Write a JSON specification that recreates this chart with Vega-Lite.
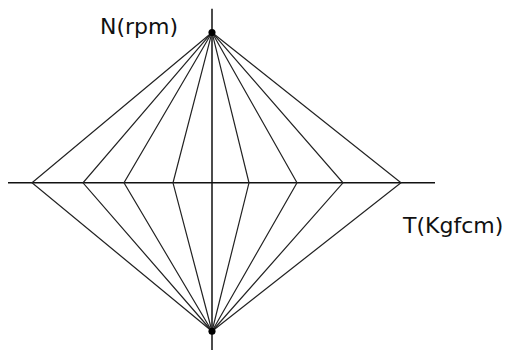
{
  "$schema": "https://vega.github.io/schema/vega-lite/v6.json",
  "width": 510,
  "height": 351,
  "padding": 0,
  "autosize": {"type": "fit", "contains": "padding"},
  "background": "white",
  "config": {"view": {"stroke": null}},
  "datasets": {
    "curves": [
      {"curve": 1, "step": 0, "T": 0, "N": 153}, {"curve": 1, "step": 1, "T": -180, "N": 0}, {"curve": 1, "step": 2, "T": 0, "N": -151},
      {"curve": 2, "step": 0, "T": 0, "N": 153}, {"curve": 2, "step": 1, "T": -129, "N": 0}, {"curve": 2, "step": 2, "T": 0, "N": -151},
      {"curve": 3, "step": 0, "T": 0, "N": 153}, {"curve": 3, "step": 1, "T": -88, "N": 0}, {"curve": 3, "step": 2, "T": 0, "N": -151},
      {"curve": 4, "step": 0, "T": 0, "N": 153}, {"curve": 4, "step": 1, "T": -39, "N": 0}, {"curve": 4, "step": 2, "T": 0, "N": -151},
      {"curve": 5, "step": 0, "T": 0, "N": 153}, {"curve": 5, "step": 1, "T": 37, "N": 0}, {"curve": 5, "step": 2, "T": 0, "N": -151},
      {"curve": 6, "step": 0, "T": 0, "N": 153}, {"curve": 6, "step": 1, "T": 85, "N": 0}, {"curve": 6, "step": 2, "T": 0, "N": -151},
      {"curve": 7, "step": 0, "T": 0, "N": 153}, {"curve": 7, "step": 1, "T": 131, "N": 0}, {"curve": 7, "step": 2, "T": 0, "N": -151},
      {"curve": 8, "step": 0, "T": 0, "N": 153}, {"curve": 8, "step": 1, "T": 189, "N": 0}, {"curve": 8, "step": 2, "T": 0, "N": -151}
    ],
    "axes": [
      {"axis": "T", "T": -204, "T2": 223, "N": 0, "N2": 0},
      {"axis": "N", "T": 0, "T2": 0, "N": 177, "N2": -170}
    ],
    "poles": [
      {"T": 0, "N": 153},
      {"T": 0, "N": -151}
    ],
    "labels": [
      {"label": "N(rpm)", "T": -112, "N": 151},
      {"label": "T(Kgfcm)", "T": 191, "N": -51}
    ]
  },
  "layer": [
    {
      "data": {"name": "axes"},
      "mark": {"type": "rule", "color": "#111111", "strokeWidth": 1.5},
      "encoding": {
        "x": {"field": "T", "type": "quantitative", "scale": {"domain": [-212, 298], "nice": false, "zero": false}, "axis": null},
        "x2": {"field": "T2"},
        "y": {"field": "N", "type": "quantitative", "scale": {"domain": [-165, 186], "nice": false, "zero": false}, "axis": null},
        "y2": {"field": "N2"}
      }
    },
    {
      "data": {"name": "curves"},
      "mark": {"type": "line", "color": "#222222", "strokeWidth": 1.2},
      "encoding": {
        "x": {"field": "T", "type": "quantitative"},
        "y": {"field": "N", "type": "quantitative"},
        "detail": {"field": "curve", "type": "nominal"},
        "order": {"field": "step", "type": "quantitative"}
      }
    },
    {
      "data": {"name": "poles"},
      "mark": {"type": "point", "filled": true, "color": "#000000", "size": 50, "opacity": 1},
      "encoding": {
        "x": {"field": "T", "type": "quantitative"},
        "y": {"field": "N", "type": "quantitative"}
      }
    },
    {
      "data": {"name": "labels"},
      "mark": {"type": "text", "align": "left", "baseline": "alphabetic", "font": "DejaVu Sans", "fontSize": 22, "color": "#111111"},
      "encoding": {
        "x": {"field": "T", "type": "quantitative"},
        "y": {"field": "N", "type": "quantitative"},
        "text": {"field": "label", "type": "nominal"}
      }
    }
  ]
}
